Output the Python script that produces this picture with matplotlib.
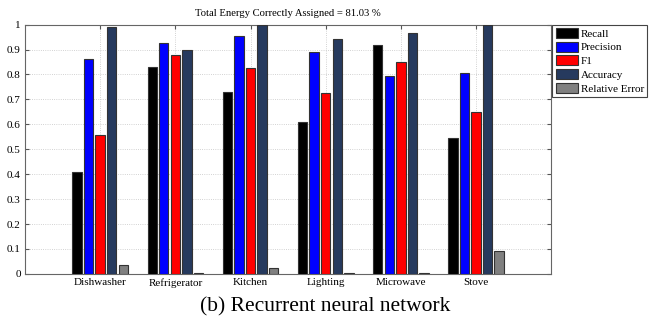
import matplotlib.pyplot as plt
import numpy as np

plt.rcParams['font.family'] = ['Liberation Serif', 'DejaVu Serif']

# Data
appliances = ['Dishwasher', 'Refrigerator', 'Kitchen', 'Lighting', 'Microwave', 'Stove']
metrics = ['Recall', 'Precision', 'F1', 'Accuracy', 'Relative Error']
recall = [0.41, 0.831, 0.73, 0.609, 0.918, 0.544]
precision = [0.864, 0.927, 0.955, 0.891, 0.792, 0.804]
f1 = [0.557, 0.877, 0.828, 0.724, 0.85, 0.648]
accuracy = [0.991, 0.898, 1.0, 0.942, 0.965, 1.0]
rel_error = [0.036, 0.003, 0.023, 0.003, 0.003, 0.092]
colors = ['black', '#0000ff', '#ff0000', '#263a5e', '#808080']
total_energy = 81.03

#Plot Setup
fig = plt.figure(figsize=(6.5, 3.2), dpi=100)
ax = fig.add_axes([0.0385, 0.144, 0.8095, 0.779])

x = np.arange(1, len(appliances) + 1)
pitch = 0.154
width = 0.125
series = [recall, precision, f1, accuracy, rel_error]
for i, vals in enumerate(series):
    ax.bar(x + (i - 2) * pitch, vals, width, color=colors[i], edgecolor='#333333',
           linewidth=0.8, label=metrics[i], zorder=3)

ax.set_xlim(0, 7)
ax.set_ylim(0, 1)
ax.set_xticks(x)
ax.set_xticklabels(appliances, fontsize=8)
ax.set_yticks(np.arange(0, 1.01, 0.1))
ax.set_yticklabels(['0', '0.1', '0.2', '0.3', '0.4', '0.5', '0.6', '0.7', '0.8', '0.9', '1'], fontsize=8)
ax.tick_params(direction='in', top=True, right=True, length=3, color='#555555', pad=3)
ax.grid(True, linestyle=':', color='#c4c4c4', linewidth=0.6, zorder=0)
for s in ax.spines.values():
    s.set_color('#666666')
    s.set_linewidth(0.8)

ax.set_title('Total Energy Correctly Assigned = ' + str(total_energy) + ' %', fontsize=7.7, pad=6)

leg = ax.legend(loc='upper left', bbox_to_anchor=(1.0, 1.005), fontsize=8, fancybox=False,
                edgecolor='#444444', framealpha=1, handlelength=2.0, handleheight=1.0,
                handletextpad=0.25, labelspacing=0.27, borderpad=0.3, borderaxespad=0.1)
leg.get_frame().set_linewidth(0.8)

fig.text(0.5, 0.04, '(b) Recurrent neural network', ha='center', va='center', fontsize=15.5)

#Saving Figure
fig.savefig('out.png', dpi=100)
plt.close()
